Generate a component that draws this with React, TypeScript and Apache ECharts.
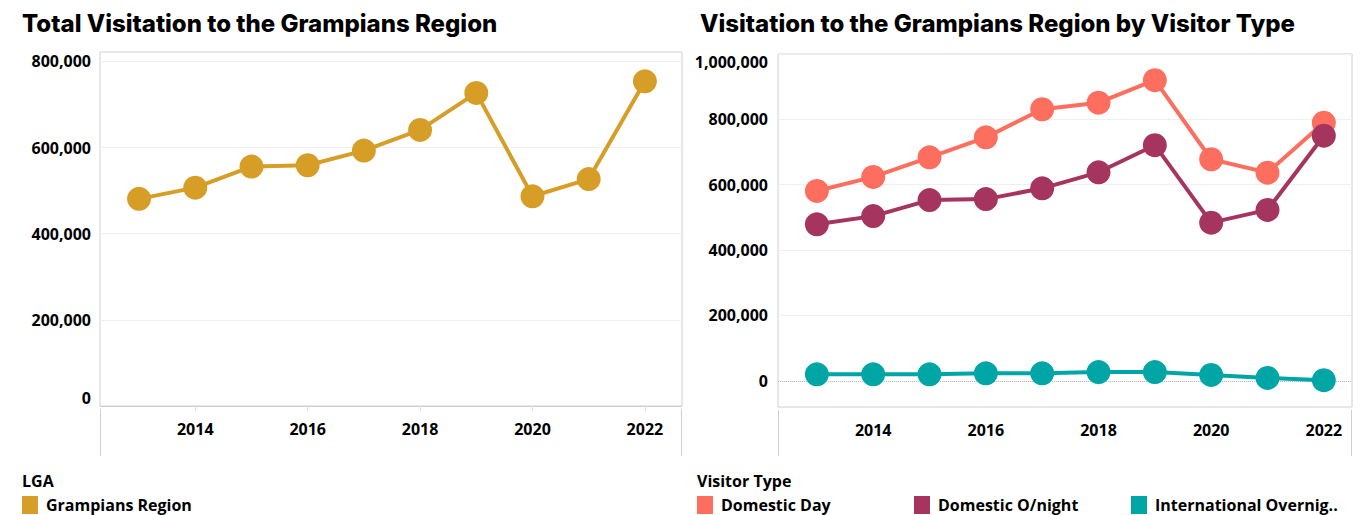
import React, { useEffect, useRef } from "react";
import * as echarts from "echarts";

const years = [2013, 2014, 2015, 2016, 2017, 2018, 2019, 2020, 2021, 2022];
const yearTicks = [2014, 2016, 2018, 2020, 2022];

const totalVisitation = [481000, 507000, 556000, 559000, 593000, 641000, 727000, 487000, 527000, 754000];

const domesticDay = [581000, 624000, 684000, 745000, 831000, 851000, 920000, 678000, 637000, 790000];
const domesticOnight = [479000, 504000, 553000, 556000, 589000, 638000, 721000, 484000, 523000, 750000];
const internationalOvernight = [20000, 20000, 20000, 23000, 23000, 27000, 27000, 18000, 9000, 2000];

const leftYTicks = [0, 200000, 400000, 600000, 800000];
const rightYTicks = [0, 200000, 400000, 600000, 800000, 1000000];

const COLORS = {
  region: "#D79E27",
  day: "#FD6E5F",
  onight: "#A5345E",
  intl: "#00A6A6",
};

const LABEL_FONT = "'Open Sans', 'Noto Sans', sans-serif";
const TITLE_FONT = "Inter, 'Open Sans', sans-serif";

const fmt = (v: number) => Number(v).toLocaleString("en-US");

export default function App() {
  const ref = useRef<HTMLDivElement>(null);

  useEffect(() => {
    if (!ref.current) return;
    const chart = echarts.init(ref.current, undefined, { renderer: "svg" });

    const pairs = (vals: number[]) => years.map((y, i) => [y, vals[i]]);

    const lineSeries = (name: string, vals: number[], color: string, idx: number, extra: any = {}) => ({
      name,
      type: "line",
      xAxisIndex: idx,
      yAxisIndex: idx,
      data: pairs(vals),
      symbol: "circle",
      symbolSize: 24,
      itemStyle: { color },
      lineStyle: { color, width: 4 },
      z: 3,
      ...extra,
    });

    const xAxisCommon = {
      type: "value",
      axisLine: { show: true, lineStyle: { color: "#c8c8c8", type: "dotted" } },
      axisTick: { show: true, length: 5, lineStyle: { color: "#e0e0e0" }, customValues: yearTicks },
      axisLabel: {
        customValues: yearTicks,
        formatter: (v: number) => String(v),
        color: "#000",
        fontFamily: LABEL_FONT,
        fontWeight: "bold",
        fontSize: 16,
        margin: 15,
      },
      splitLine: { show: false },
    };

    const yLabel = {
      color: "#000",
      fontFamily: LABEL_FONT,
      fontWeight: "bold",
      fontSize: 16,
      margin: 9,
      formatter: (v: number) => fmt(v),
    };

    const legendText = { fontFamily: LABEL_FONT, fontWeight: "bold", fontSize: 16, color: "#000", padding: [0, 0, 0, 3] };

    const option: any = {
      animation: false,
      backgroundColor: "#fff",
      title: [
        {
          text: "Total Visitation to the Grampians Region",
          left: 22,
          top: 11,
          padding: 0,
          textStyle: { fontFamily: TITLE_FONT, fontWeight: 800, fontSize: 24, color: "#000" },
        },
        {
          text: "Visitation to the Grampians Region by Visitor Type",
          left: 700,
          top: 11,
          padding: 0,
          textStyle: { fontFamily: TITLE_FONT, fontWeight: 800, fontSize: 24, color: "#000" },
        },
        {
          text: "LGA",
          left: 22,
          top: 473,
          padding: 0,
          textStyle: { fontFamily: LABEL_FONT, fontWeight: "bold", fontSize: 16, color: "#000" },
        },
        {
          text: "Visitor Type",
          left: 697,
          top: 473,
          padding: 0,
          textStyle: { fontFamily: LABEL_FONT, fontWeight: "bold", fontSize: 16, color: "#000" },
        },
      ],
      grid: [
        { left: 100, top: 52, width: 582, height: 354, show: true, borderColor: "#d0d0d0", borderWidth: 1, backgroundColor: "transparent" },
        { left: 778, top: 54, width: 574, height: 353, show: true, borderColor: "#d0d0d0", borderWidth: 1, backgroundColor: "transparent" },
      ],
      xAxis: [
        { ...xAxisCommon, gridIndex: 0, min: 2012.305, max: 2022.66 },
        { ...xAxisCommon, gridIndex: 1, min: 2012.31, max: 2022.5, axisLine: { show: false } },
      ],
      yAxis: [
        {
          type: "value",
          gridIndex: 0,
          min: 0,
          max: 822000,
          axisLine: { show: false },
          axisTick: { show: false, customValues: leftYTicks },
          axisLabel: { ...yLabel, customValues: leftYTicks, verticalAlignMinLabel: "bottom" },
          splitLine: { show: true, lineStyle: { color: "#efefef", width: 1 } },
        },
        {
          type: "value",
          gridIndex: 1,
          min: -80000,
          max: 1000000,
          axisLine: { show: false },
          axisTick: { show: false, customValues: rightYTicks },
          axisLabel: { ...yLabel, margin: 10, customValues: rightYTicks, verticalAlignMaxLabel: "top" },
          splitLine: { show: true, lineStyle: { color: "#efefef", width: 1 } },
        },
      ],
      legend: [
        {
          data: ["Grampians Region"],
          left: 22,
          top: 496,
          padding: 0,
          icon: "rect",
          itemWidth: 16,
          itemHeight: 18,
          textStyle: legendText,
          selectedMode: false,
        },
        {
          data: ["Domestic Day"],
          left: 697,
          top: 496,
          padding: 0,
          icon: "rect",
          itemWidth: 16,
          itemHeight: 18,
          textStyle: legendText,
          selectedMode: false,
        },
        {
          data: ["Domestic O/night"],
          left: 914,
          top: 496,
          padding: 0,
          icon: "rect",
          itemWidth: 16,
          itemHeight: 18,
          textStyle: legendText,
          selectedMode: false,
        },
        {
          data: ["International Overnight"],
          left: 1131,
          top: 496,
          padding: 0,
          icon: "rect",
          itemWidth: 16,
          itemHeight: 18,
          formatter: (n: string) => (n.length > 21 ? n.slice(0, 21) + ".." : n),
          textStyle: legendText,
          selectedMode: false,
        },
      ],
      graphic: [
        { type: "line", shape: { x1: 100.5, y1: 409, x2: 100.5, y2: 456 }, style: { stroke: "#d0d0d0", lineWidth: 1 } },
        { type: "line", shape: { x1: 681.5, y1: 409, x2: 681.5, y2: 456 }, style: { stroke: "#d0d0d0", lineWidth: 1 } },
        { type: "line", shape: { x1: 778.5, y1: 410, x2: 778.5, y2: 456 }, style: { stroke: "#d0d0d0", lineWidth: 1 } },
        { type: "line", shape: { x1: 1351.5, y1: 410, x2: 1351.5, y2: 456 }, style: { stroke: "#d0d0d0", lineWidth: 1 } },
      ],
      series: [
        lineSeries("Grampians Region", totalVisitation, COLORS.region, 0),
        lineSeries("Domestic Day", domesticDay, COLORS.day, 1),
        lineSeries("Domestic O/night", domesticOnight, COLORS.onight, 1),
        lineSeries("International Overnight", internationalOvernight, COLORS.intl, 1, {
          markLine: {
            silent: true,
            z: 1,
            symbol: "none",
            label: { show: false },
            lineStyle: { color: "#bdbdbd", type: "dotted", width: 1 },
            data: [{ yAxis: 0 }],
          },
        }),
      ],
    };

    chart.setOption(option);
    return () => chart.dispose();
  }, []);

  return (
    <div
      ref={ref}
      style={{ position: "fixed", left: 0, top: 0, width: 1363, height: 515, background: "#fff" }}
    />
  );
}
